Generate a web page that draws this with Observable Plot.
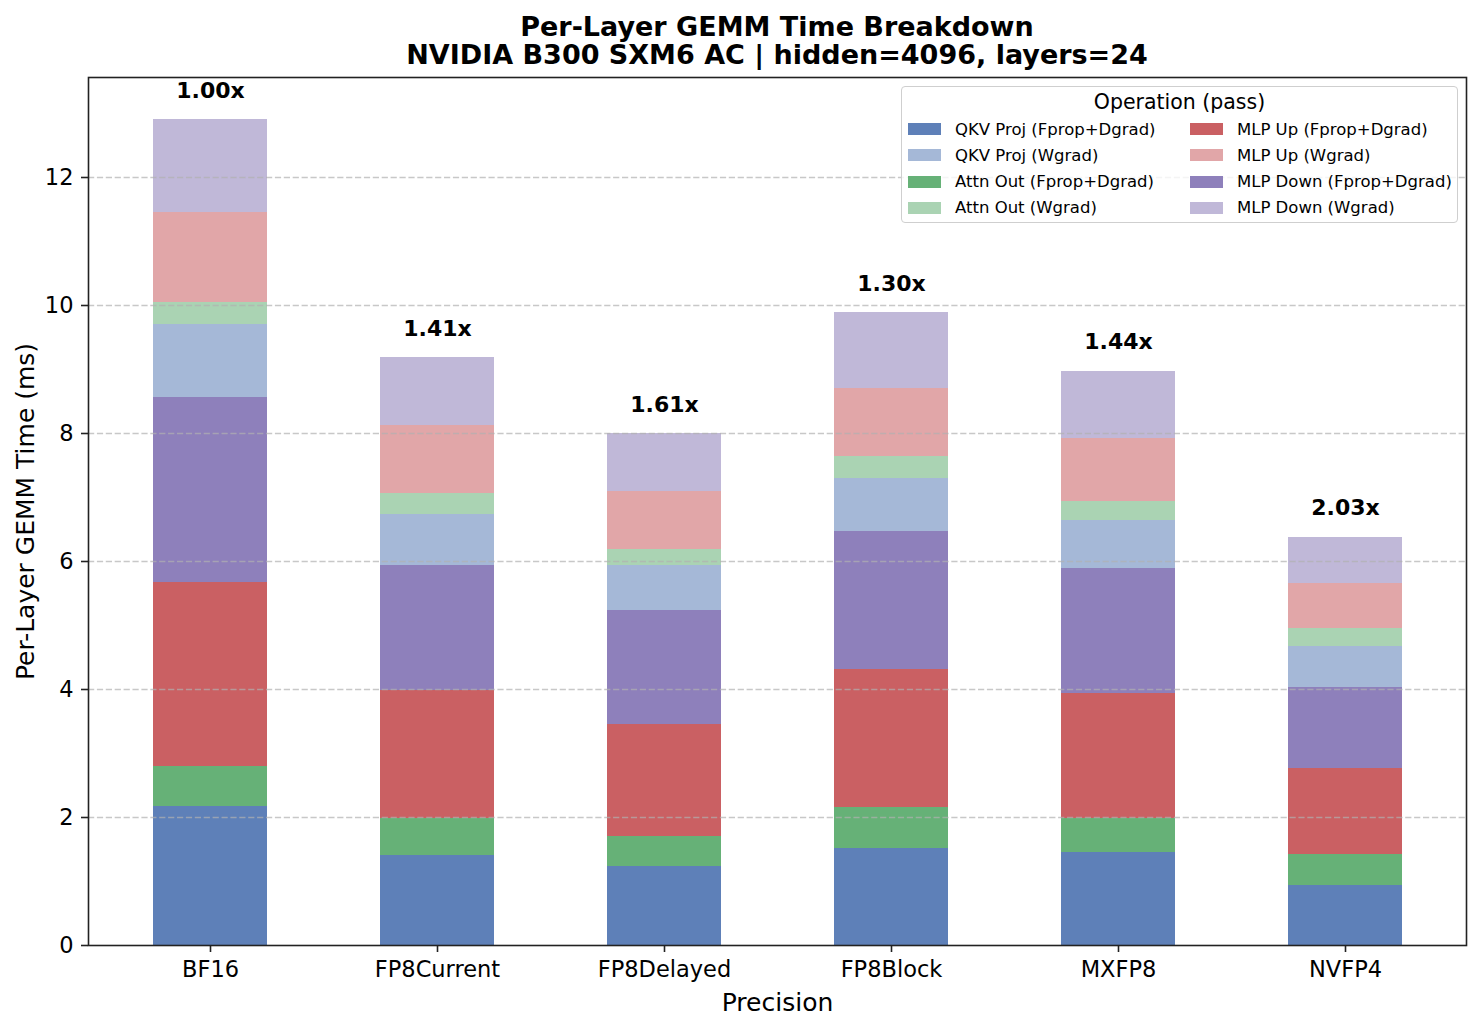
<!DOCTYPE html>
<html>
<head>
<meta charset="utf-8">
<script src="https://cdn.jsdelivr.net/npm/d3@7"></script>
<script src="https://cdn.jsdelivr.net/npm/@observablehq/plot@0.6"></script>
<style>
  html, body { margin: 0; padding: 0; background: #fff; }
  #fig { position: relative; width: 1482px; height: 1030px; font-family: "DejaVu Sans", sans-serif; color: #000; }
  #title { position: absolute; left: 88px; width: 1378px; top: 13px; text-align: center; font-weight: bold; font-size: 27px; line-height: 28px; }
  #chart { position: absolute; left: 0; top: 70px; }
  #legend { position: absolute; left: 901px; top: 86px; width: 555px; height: 135px; border: 1.5px solid #cfcfcf; border-radius: 4px; background: rgba(255,255,255,0.8); box-sizing: content-box; }
  #legend .ttl { position: absolute; left: 0; width: 100%; top: 2px; text-align: center; font-size: 20.5px; line-height: 26px; }
  #legend .item { position: absolute; height: 26px; display: flex; align-items: center; font-size: 16.5px; white-space: nowrap; }
  #legend .sw { width: 33px; height: 12px; margin-right: 14px; flex: none; }
</style>
</head>
<body>
<div id="fig">
  <div id="title">Per-Layer GEMM Time Breakdown<br>NVIDIA B300 SXM6 AC | hidden=4096, layers=24</div>
  <div id="chart"></div>
  <div id="legend"></div>
</div>
<script>
const precisions = ["BF16", "FP8Current", "FP8Delayed", "FP8Block", "MXFP8", "NVFP4"];
const speedupLabels = ["1.00x", "1.41x", "1.61x", "1.30x", "1.44x", "2.03x"];

// per-layer GEMM time (ms) per operation/pass
const qkvFwd   = [2.17, 1.40, 1.23, 1.51, 1.45, 0.94];
const attnFwd  = [0.63, 0.58, 0.48, 0.65, 0.53, 0.48];
const upFwd    = [2.87, 2.00, 1.75, 2.16, 1.96, 1.35];
const downFwd  = [2.89, 1.95, 1.78, 2.15, 1.95, 1.26];
const qkvW     = [1.14, 0.81, 0.70, 0.82, 0.75, 0.64];
const attnW    = [0.34, 0.32, 0.25, 0.35, 0.30, 0.28];
const upW      = [1.41, 1.06, 0.91, 1.07, 0.98, 0.70];
const downW    = [1.45, 1.06, 0.90, 1.18, 1.05, 0.73];

const seriesNames = [
  "QKV Proj (Fprop+Dgrad)", "Attn Out (Fprop+Dgrad)", "MLP Up (Fprop+Dgrad)", "MLP Down (Fprop+Dgrad)",
  "QKV Proj (Wgrad)", "Attn Out (Wgrad)", "MLP Up (Wgrad)", "MLP Down (Wgrad)"
];
const seriesValues = [qkvFwd, attnFwd, upFwd, downFwd, qkvW, attnW, upW, downW];
const seriesColors = ["#5e80b8", "#66b177", "#ca6063", "#8e80bb", "#a5b8d7", "#aad3b3", "#e1a6a8", "#c0b8d8"];
const legendOrder = [
  "QKV Proj (Fprop+Dgrad)", "QKV Proj (Wgrad)", "Attn Out (Fprop+Dgrad)", "Attn Out (Wgrad)",
  "MLP Up (Fprop+Dgrad)", "MLP Up (Wgrad)", "MLP Down (Fprop+Dgrad)", "MLP Down (Wgrad)"
];
const yTicks = [0, 2, 4, 6, 8, 10, 12];

const rows = [];
seriesNames.forEach((s, i) => precisions.forEach((p, j) => rows.push({precision: p, series: s, value: seriesValues[i][j]})));
const totals = precisions.map((p, j) => ({precision: p, total: d3.sum(seriesValues, v => v[j]), label: speedupLabels[j]}));

const chart = Plot.plot({
  width: 1482,
  height: 960,
  marginLeft: 88,
  marginRight: 16,
  marginTop: 7,
  marginBottom: 85,
  x: {domain: precisions, paddingInner: 0.5, paddingOuter: 0.2745, label: null},
  y: {domain: [0, 13.5625], label: null},
  color: {domain: seriesNames, range: seriesColors},
  style: {fontFamily: "DejaVu Sans", color: "#000", background: "#fff", overflow: "visible"},
  marks: [
    Plot.barY(rows, {x: "precision", y: "value", fill: "series", order: seriesNames, shapeRendering: "crispEdges"}),
    Plot.gridY(yTicks.filter(d => d > 0), {stroke: "#b0b0b0", strokeOpacity: 0.7, strokeWidth: 1.6, strokeDasharray: "6.2,2.7"}),
    Plot.axisY({ticks: yTicks, tickSize: 7, tickPadding: 8, label: null, stroke: "#222", strokeWidth: 1.6, fontSize: 22.5, fill: "#000"}),
    Plot.axisX({tickSize: 7, tickPadding: 9, label: null, stroke: "#222", strokeWidth: 1.6, fontSize: 22.5, fill: "#000"}),
    Plot.frame({stroke: "#222", strokeWidth: 1.6}),
    Plot.text(totals, {x: "precision", y: "total", text: "label", dy: -29, lineAnchor: "middle", fontWeight: "bold", fontSize: 22, fill: "#000"}),
    Plot.text(["Per-Layer GEMM Time (ms)"], {frameAnchor: "left", dx: -63, rotate: -90, textAnchor: "middle", lineAnchor: "middle", fontSize: 25, fill: "#000"}),
    Plot.text(["Precision"], {frameAnchor: "bottom", dy: 57, lineAnchor: "middle", fontSize: 25, fill: "#000"})
  ]
});
document.getElementById("chart").appendChild(chart);

// legend (inside axes, upper right)
const legend = document.getElementById("legend");
const ttl = document.createElement("div");
ttl.className = "ttl";
ttl.textContent = "Operation (pass)";
legend.appendChild(ttl);
legendOrder.forEach((name, k) => {
  const col = Math.floor(k / 4), row = k % 4;
  const item = document.createElement("div");
  item.className = "item";
  item.style.left = (6 + col * 282) + "px";
  item.style.top = (29 + row * 26.3) + "px";
  const sw = document.createElement("span");
  sw.className = "sw";
  sw.style.background = seriesColors[seriesNames.indexOf(name)];
  const tx = document.createElement("span");
  tx.textContent = name;
  item.appendChild(sw);
  item.appendChild(tx);
  legend.appendChild(item);
});
</script>
</body>
</html>
